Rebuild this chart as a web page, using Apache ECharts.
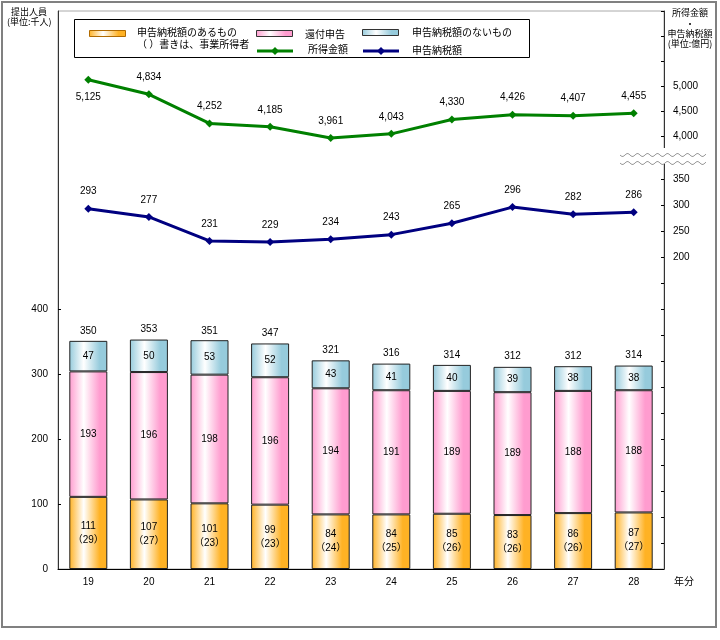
<!DOCTYPE html>
<html>
<head>
<meta charset="utf-8">
<script src="https://cdn.jsdelivr.net/npm/echarts@6/dist/echarts.min.js"></script>
<style>html,body{margin:0;padding:0;background:#fff;}#c{width:720px;height:640px;}</style>
</head>
<body>
<div id="c"></div>
<script>
const years = ['19','20','21','22','23','24','25','26','27','28'];
const withTax = [111,107,101,99,84,84,85,83,86,87];
const withTaxBiz = [29,27,23,23,24,25,26,26,26,27];
const refund = [193,196,198,196,194,191,189,189,188,188];
const noTax = [47,50,53,52,43,41,40,39,38,38];
const totals = [350,353,351,347,321,316,314,312,312,314];
const income = [5125,4834,4252,4185,3961,4043,4330,4426,4407,4455];
const taxAmount = [293,277,231,229,234,243,265,296,282,286];
const leftLabels = [0,100,200,300,400];
const taxLabels = [200,250,300,350];
const taxTickVals = [-400,-350,-300,-250,-200,-150,-100,-50,0,50,100,150,200,250,300,350];
const incomeLabels = [4000,4500,5000];
const incomeTickVals = [4000,4500,5000,5500,6000,6500];

const FONT = '"Liberation Sans","Noto Sans CJK JP",sans-serif';
const JFONT = '"Noto Sans CJK JP",sans-serif';
const fmt = v => Number(v).toLocaleString('en-US');
const grad = (c) => new echarts.graphic.LinearGradient(0,0,1,0,[
  {offset:0,color:c},{offset:0.38,color:'#ffffff'},{offset:0.8,color:c},{offset:1,color:c}]);
const ORANGE = '#FFB224', PINK = '#FF9CCF', BLUE = '#96CBDC';

const chart = echarts.init(document.getElementById('c'), null, {renderer:'canvas'});

function wave(x0, x1, y) {
  const pts = [];
  for (let x = x0; x <= x1; x += 1) pts.push([x, y + 1.5*Math.sin((x - x0) / 10 * 2 * Math.PI)]);
  return pts;
}
function diamond(cx, cy, r) {
  return [[cx, cy - r], [cx + r, cy], [cx, cy + r], [cx - r, cy]];
}

const option = {
  animation: false,
  backgroundColor: '#fff',
  textStyle: {fontFamily: FONT},
  grid: {left: 58, right: 56, top: 11, bottom: 71, show: true, borderColor: '#aaa', borderWidth: 1, backgroundColor: 'transparent'},
  xAxis: {
    type: 'category', data: years, boundaryGap: true,
    axisLine: {lineStyle: {color: '#000', width: 1}},
    axisTick: {inside: true, length: 3, lineStyle: {color: '#000'}},
    axisLabel: {color: '#000', fontSize: 10, margin: 8, fontFamily: FONT}
  },
  yAxis: [
    {
      type: 'value', position: 'left', min: 0, max: 858.46, interval: 100,
      splitLine: {show: false},
      axisLine: {show: true, lineStyle: {color: '#333'}},
      axisTick: {show: true, inside: true, length: 3, customValues: leftLabels, lineStyle: {color: '#000'}},
      axisLabel: {color: '#000', fontSize: 10, margin: 10, customValues: leftLabels, fontFamily: FONT}
    },
    {
      type: 'value', position: 'right', min: -400, max: 673.08, interval: 50,
      splitLine: {show: false},
      axisLine: {show: true, lineStyle: {color: '#333'}},
      axisTick: {show: true, inside: true, length: 3, customValues: taxTickVals, lineStyle: {color: '#000'}},
      axisLabel: {color: '#000', fontSize: 10, margin: 9, customValues: taxLabels, fontFamily: FONT}
    },
    {
      type: 'value', position: 'right', min: -4660, max: 6500,
      splitLine: {show: false},
      axisLine: {show: false},
      axisTick: {show: true, inside: true, length: 3, customValues: incomeTickVals, lineStyle: {color: '#000'}},
      axisLabel: {color: '#000', fontSize: 10, margin: 9, customValues: incomeLabels, formatter: v => fmt(v), fontFamily: FONT}
    }
  ],
  series: [
    {
      name: '申告納税額のあるもの', type: 'bar', stack: 'p', yAxisIndex: 0, barWidth: 38,
      data: withTax,
      itemStyle: {color: grad(ORANGE), borderColor: '#222', borderWidth: 1},
      label: {show: true, position: 'inside', color: '#000', fontSize: 10, lineHeight: 14, fontFamily: FONT,
        formatter: p => p.value + '\n（' + withTaxBiz[p.dataIndex] + '）'}
    },
    {
      name: '還付申告', type: 'bar', stack: 'p', yAxisIndex: 0, barWidth: 38,
      data: refund,
      itemStyle: {color: grad(PINK), borderColor: '#222', borderWidth: 1},
      label: {show: true, position: 'inside', color: '#000', fontSize: 10, fontFamily: FONT}
    },
    {
      name: '申告納税額のないもの', type: 'bar', stack: 'p', yAxisIndex: 0, barWidth: 38,
      data: noTax,
      itemStyle: {color: grad(BLUE), borderColor: '#222', borderWidth: 1},
      label: {show: true, position: 'inside', color: '#000', fontSize: 10, fontFamily: FONT}
    },
    {
      name: '合計', type: 'scatter', yAxisIndex: 0, data: totals, symbolSize: 0,
      itemStyle: {color: '#000', opacity: 1},
      label: {show: true, position: 'top', distance: 5, color: '#000', fontSize: 10, fontFamily: FONT}
    },
    {
      name: '所得金額', type: 'line', yAxisIndex: 2,
      data: income.map((v, i) => i === 0 ? {value: v, label: {position: 'bottom', distance: 9}} : v),
      lineStyle: {color: '#008000', width: 3}, itemStyle: {color: '#008000'},
      symbol: 'diamond', symbolSize: 8, z: 5,
      label: {show: true, position: 'top', distance: 8, color: '#000', fontSize: 10, fontFamily: FONT, formatter: p => fmt(p.value)}
    },
    {
      name: '申告納税額', type: 'line', yAxisIndex: 1,
      data: taxAmount,
      lineStyle: {color: '#000080', width: 3}, itemStyle: {color: '#000080'},
      symbol: 'diamond', symbolSize: 8, z: 5,
      label: {show: true, position: 'top', distance: 8, color: '#000', fontSize: 10, fontFamily: FONT}
    }
  ],
  graphic: [
    {type: 'rect', shape: {x: 2, y: 2, width: 714, height: 625}, style: {fill: 'none', stroke: '#808080', lineWidth: 2}, z: 0, silent: true},
    {type: 'text', x: 11, y: 7, style: {text: '提出人員', font: '9px ' + JFONT, fill: '#000'}},
    {type: 'text', x: 7, y: 17, style: {text: '(単位:千人)', font: '9px ' + JFONT, fill: '#000'}},
    {type: 'text', x: 690, y: 8, style: {text: '所得金額', font: '9px ' + JFONT, fill: '#000', align: 'center'}},
    {type: 'text', x: 690, y: 19, style: {text: '・', font: '9px ' + JFONT, fill: '#000', align: 'center'}},
    {type: 'text', x: 690, y: 29, style: {text: '申告納税額', font: '9px ' + JFONT, fill: '#000', align: 'center'}},
    {type: 'text', x: 690, y: 39, style: {text: '(単位:億円)', font: '9px ' + JFONT, fill: '#000', align: 'center'}},
    {type: 'text', x: 674, y: 576, style: {text: '年分', font: '10px ' + JFONT, fill: '#000'}},
    {type: 'rect', shape: {x: 660, y: 148, width: 8, height: 16}, style: {fill: '#fff'}, z: 100},
    {type: 'polyline', shape: {points: wave(620, 706, 155)}, style: {stroke: '#999', lineWidth: 1, fill: null}, z: 101},
    {type: 'polyline', shape: {points: wave(620, 706, 163)}, style: {stroke: '#999', lineWidth: 1, fill: null}, z: 101},
    {type: 'rect', shape: {x: 74.5, y: 19.5, width: 455, height: 38}, style: {fill: '#fff', stroke: '#000', lineWidth: 1}, z: 100},
    {type: 'rect', shape: {x: 89.5, y: 30.5, width: 36, height: 6}, style: {fill: grad(ORANGE), stroke: '#B06A00', lineWidth: 1}, z: 101},
    {type: 'text', x: 137, y: 27, style: {text: '申告納税額のあるもの', font: '10px ' + JFONT, fill: '#000'}, z: 101},
    {type: 'text', x: 137, y: 39, style: {text: '（ ）書きは、事業所得者', font: '10px ' + JFONT, fill: '#000'}, z: 101},
    {type: 'rect', shape: {x: 256.5, y: 30.5, width: 36, height: 6}, style: {fill: grad(PINK), stroke: '#333', lineWidth: 1}, z: 101},
    {type: 'text', x: 305, y: 29, style: {text: '還付申告', font: '10px ' + JFONT, fill: '#000'}, z: 101},
    {type: 'rect', shape: {x: 362.5, y: 29.5, width: 36, height: 6}, style: {fill: grad(BLUE), stroke: '#333', lineWidth: 1}, z: 101},
    {type: 'text', x: 412, y: 27, style: {text: '申告納税額のないもの', font: '10px ' + JFONT, fill: '#000'}, z: 101},
    {type: 'line', shape: {x1: 257, y1: 51, x2: 293, y2: 51}, style: {stroke: '#008000', lineWidth: 3}, z: 101},
    {type: 'polygon', shape: {points: diamond(275, 51, 4)}, style: {fill: '#008000'}, z: 102},
    {type: 'text', x: 308, y: 44, style: {text: '所得金額', font: '10px ' + JFONT, fill: '#000'}, z: 101},
    {type: 'line', shape: {x1: 363, y1: 51, x2: 399, y2: 51}, style: {stroke: '#000080', lineWidth: 3}, z: 101},
    {type: 'polygon', shape: {points: diamond(381, 51, 4)}, style: {fill: '#000080'}, z: 102},
    {type: 'text', x: 412, y: 45, style: {text: '申告納税額', font: '10px ' + JFONT, fill: '#000'}, z: 101}
  ]
};
chart.setOption(option);
</script>
</body>
</html>
